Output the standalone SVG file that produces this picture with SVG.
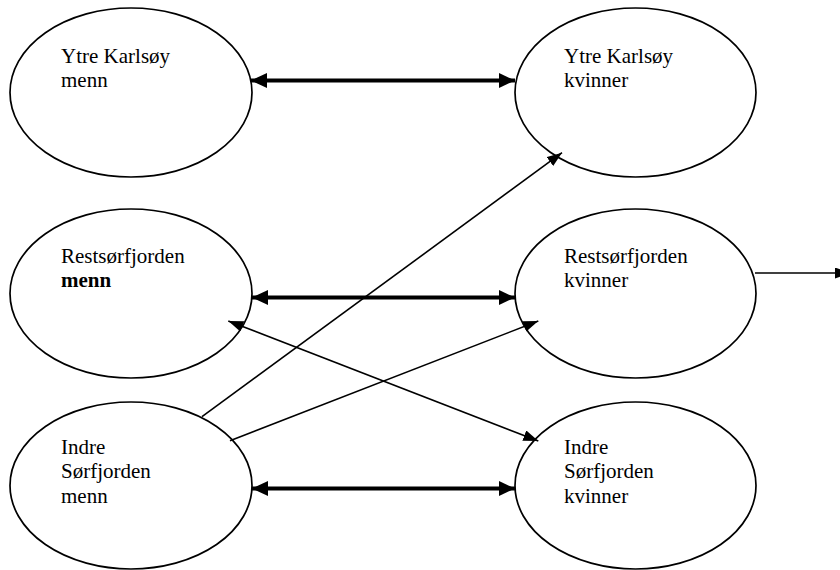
<svg xmlns="http://www.w3.org/2000/svg" width="840" height="570" viewBox="0 0 840 570">
<style>
.node ellipse{fill:#fff;stroke:#000;stroke-width:1.7}
.thick{stroke:#000;stroke-width:3.8;fill:none}
.thin{stroke:#000;stroke-width:1.6;fill:none}
</style>
<defs>
<marker id="headThick" markerUnits="userSpaceOnUse" markerWidth="17" markerHeight="16" refX="16" refY="7.5" orient="auto-start-reverse" viewBox="0 0 17 16">
<path d="M0,0 L16,7.5 L0,15 z" fill="#000"/>
</marker>
<marker id="headThin" markerUnits="userSpaceOnUse" markerWidth="16" markerHeight="12" refX="15" refY="5.5" orient="auto-start-reverse" viewBox="0 0 16 12">
<path d="M0,0 L15,5.5 L0,11 z" fill="#000"/>
</marker>
</defs>
<g id="nodes" font-family="'Liberation Serif', 'Times New Roman', serif" font-size="21" fill="#000">
<g id="ytre-menn" class="node">
<ellipse cx="131" cy="92.5" rx="121" ry="84.5"/>
<text x="61" y="63">Ytre Karlsøy</text>
<text x="61" y="87">menn</text>
</g>
<g id="ytre-kvinner" class="node">
<ellipse cx="635.5" cy="92.5" rx="120.5" ry="84.5"/>
<text x="564" y="63">Ytre Karlsøy</text>
<text x="564" y="87">kvinner</text>
</g>
<g id="rest-menn" class="node">
<ellipse cx="131" cy="293.5" rx="121" ry="84.5"/>
<text x="61" y="263">Restsørfjorden</text>
<text x="61" y="287" font-weight="bold">menn</text>
</g>
<g id="rest-kvinner" class="node">
<ellipse cx="635.5" cy="293.5" rx="120.5" ry="84.5"/>
<text x="564" y="263">Restsørfjorden</text>
<text x="564" y="287">kvinner</text>
</g>
<g id="indre-menn" class="node">
<ellipse cx="131" cy="485.5" rx="121" ry="83.5"/>
<text x="61" y="454">Indre</text>
<text x="61" y="478">Sørfjorden</text>
<text x="61" y="503">menn</text>
</g>
<g id="indre-kvinner" class="node">
<ellipse cx="635.5" cy="485.5" rx="120.5" ry="83.5"/>
<text x="564" y="454">Indre</text>
<text x="564" y="478">Sørfjorden</text>
<text x="564" y="503">kvinner</text>
</g>
</g>
<g id="connectors">
<line class="thick" x1="251" y1="80.5" x2="515" y2="80.5" marker-start="url(#headThick)" marker-end="url(#headThick)"/>
<line class="thick" x1="252" y1="297.5" x2="515" y2="297.5" marker-start="url(#headThick)" marker-end="url(#headThick)"/>
<line class="thick" x1="252" y1="488.5" x2="515" y2="488.5" marker-start="url(#headThick)" marker-end="url(#headThick)"/>
<line class="thin" x1="202" y1="416.7" x2="562" y2="152.7" marker-end="url(#headThin)"/>
<line class="thin" x1="230" y1="440.7" x2="538.3" y2="321" marker-end="url(#headThin)"/>
<line class="thin" x1="228.3" y1="321" x2="538.3" y2="441" marker-start="url(#headThin)" marker-end="url(#headThin)"/>
<line class="thin" x1="755" y1="273" x2="850" y2="273" marker-end="url(#headThin)"/>
</g>
</svg>
